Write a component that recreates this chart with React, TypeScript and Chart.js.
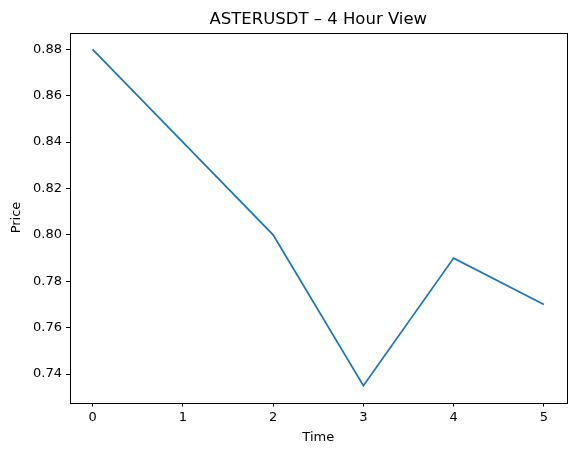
import React, { useEffect, useRef } from "react";
import { Chart, registerables } from "chart.js";

Chart.register(...registerables);

const chartTitle = "ASTERUSDT – 4 Hour View";
const timeValues = [0, 1, 2, 3, 4, 5];
const priceValues = [0.88, 0.84, 0.8, 0.735, 0.79, 0.77];
const xTickValues = [0, 1, 2, 3, 4, 5];
const yTickValues = [0.74, 0.76, 0.78, 0.8, 0.82, 0.84, 0.86, 0.88];

const FONT = "'DejaVu Sans', sans-serif";

const framePlugin = {
  id: "frame",
  afterDraw(chart: any) {
    const { ctx, chartArea } = chart;
    ctx.save();
    ctx.strokeStyle = "#000";
    ctx.lineWidth = 1;
    const l = Math.round(chartArea.left) + 0.5;
    const t = Math.round(chartArea.top) + 0.5;
    const r = Math.round(chartArea.right) + 0.5;
    const b = Math.round(chartArea.bottom) + 0.5;
    ctx.strokeRect(l, t, r - l, b - t);
    ctx.fillStyle = "#000";
    ctx.font = `16.5px ${FONT}`;
    ctx.textAlign = "center";
    ctx.textBaseline = "alphabetic";
    ctx.fillText(chartTitle, (chartArea.left + chartArea.right) / 2, 24);
    ctx.restore();
  },
};

export default function App() {
  const ref = useRef<HTMLCanvasElement>(null);
  useEffect(() => {
    document.body.style.margin = "0";
    const canvas = ref.current!;
    const xMin = Math.min(...timeValues);
    const xMax = Math.max(...timeValues);
    const yMin = Math.min(...priceValues);
    const yMax = Math.max(...priceValues);
    const xm = (xMax - xMin) * 0.05;
    const ym = (yMax - yMin) * 0.05;
    const chart = new Chart(canvas, {
      type: "line",
      data: {
        datasets: [
          {
            data: timeValues.map((t, i) => ({ x: t, y: priceValues[i] })),
            borderColor: "#1f77b4",
            borderWidth: 1.8,
            pointRadius: 0,
            tension: 0,
            fill: false,
          },
        ],
      },
      plugins: [framePlugin],
      options: {
        responsive: false,
        animation: false,
        layout: { padding: { left: 0, right: 9.5, top: 32.5, bottom: 0 } },
        plugins: {
          legend: { display: false },
          tooltip: { enabled: false },
          title: { display: false },
        },
        scales: {
          x: {
            type: "linear",
            min: xMin - xm,
            max: xMax + xm,
            afterFit: (s: any) => {
              s.height = 52.5;
            },
            afterBuildTicks: (s: any) => {
              s.ticks = xTickValues.map((v) => ({ value: v }));
            },
            ticks: {
              color: "#000",
              font: { family: FONT, size: 13 },
              padding: 3,
              maxRotation: 0,
              callback: (v: any) => String(v),
            },
            grid: {
              drawOnChartArea: false,
              drawTicks: true,
              tickLength: 4,
              tickColor: "#000",
            },
            border: { display: false },
            title: {
              display: true,
              text: "Time",
              color: "#000",
              font: { family: FONT, size: 13 },
              padding: { top: 0, bottom: 10 },
            },
          },
          y: {
            type: "linear",
            min: yMin - ym,
            max: yMax + ym,
            afterFit: (s: any) => {
              s.width = 70;
            },
            afterBuildTicks: (s: any) => {
              s.ticks = yTickValues.map((v) => ({ value: v }));
            },
            ticks: {
              color: "#000",
              font: { family: FONT, size: 13 },
              padding: 4,
              callback: (v: any) => Number(v).toFixed(2),
            },
            grid: {
              drawOnChartArea: false,
              drawTicks: true,
              tickLength: 4,
              tickColor: "#000",
            },
            border: { display: false },
            title: {
              display: true,
              text: "Price",
              color: "#000",
              font: { family: FONT, size: 13 },
              padding: { top: 8.5, bottom: 0 },
            },
          },
        },
      },
    } as any);
    return () => chart.destroy();
  }, []);
  return <canvas ref={ref} width={576} height={455} style={{ display: "block" }} />;
}
